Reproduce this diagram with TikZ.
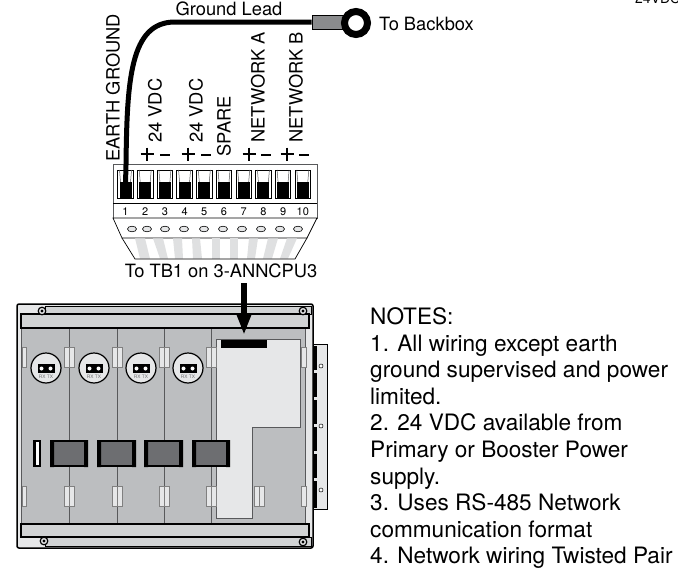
\documentclass[tikz,border=0pt]{standalone}
\usepackage{fontspec}
\setmainfont{TeX Gyre Heros}
\usetikzlibrary{arrows.meta}
\definecolor{panelgray}{HTML}{BCBEC0}
\definecolor{stripgray}{HTML}{D1D3D4}
\definecolor{lightgray}{HTML}{E6E7E8}
\definecolor{darkgray}{HTML}{6D6E71}
\definecolor{lineedge}{HTML}{58595B}
\tikzset{
  label18/.style={font=\fontsize{18.3}{18.3}\selectfont, inner sep=0pt},
  vlabel/.style={label18, rotate=90, anchor=west},
  slotbox/.style={draw=black, line width=.8pt, fill=white, minimum width=15.5pt, minimum height=28pt, inner sep=0pt},
  clipbox/.style={draw=gray, line width=.6pt, fill=lightgray},
  modulebox/.style={draw=black, line width=2pt, fill=darkgray},
}
\begin{document}
\begin{tikzpicture}[x=1pt,y=-1pt]
 \useasboundingbox (0,0) rectangle (678,570);

 % cut off text at the top
 \begin{scope}
 \clip (0,0) rectangle (678,570);
 \node[label18, font=\fontsize{14}{14}\selectfont, anchor=base west] (cutlabel) at (635,3.5) {24VDC};
 \end{scope}

 % terminal block
 \draw[line width=.7pt, lineedge, fill=white] (113,164) rectangle (317,218);
 \draw[line width=.7pt] (113,203) -- (317,203);
 \foreach \x/\h in {0/132,1/147,2/165,3/184,4/204,5/223,6/242,7/261,8/280,9/298} {
   \pgfmathtruncatemacro{\n}{\x+1}
   \node[slotbox] (slot\n) at (125.5+19.7*\x,184) {};
   \draw[line width=.5pt, lineedge] (119.5+19.7*\x,170) -- (120.5+19.7*\x,182) (131.5+19.7*\x,170) -- (130.5+19.7*\x,182);
   \fill[black] (119.5+19.7*\x,182) rectangle (131.5+19.7*\x,198);
   \node[font=\fontsize{11}{11}\selectfont, inner sep=0pt] (num\n) at (125.5+19.7*\x,211.5) {\n};
 }
 % lower part of the block
 \draw[line width=.7pt, fill=white] (113,218) -- (317,218) -- (307,238) -- (122,238) -- cycle;
 \foreach \h in {132,147,165,184,204,223,242,261,280,298} {
   \fill[lightgray, draw=black, line width=.6pt] (\h,229) ellipse [x radius=4.5, y radius=2.8];
 }
 % stripes below the holes
 \foreach \a/\b/\c/\d in {135/145/140/150,153/163/160/168,173/182/175/183,192/200/193/202,212/220/212/220,230/238/230/238,249/258/247/255,268/278/263/272,287/297/280/288} {
   \fill[stripgray!70] (\a,238.4) -- (\b,238.4) -- (\d,258.6) -- (\c,258.6) -- cycle;
 }
 \draw[line width=.7pt] (122,238) -- (135,259) -- (295,259) -- (307,238);

 % ground lead and lug
 \node[draw=black, line width=.7pt, fill=darkgray!80, minimum width=31pt, minimum height=14pt, inner sep=0pt] (lug) at (327.5,22) {};
 \node[draw=black, line width=7pt, fill=white, circle, minimum size=23pt, inner sep=0pt] (ring) at (356,23) {};
 \draw[line width=5pt] (slot1.center) -- (126,165) .. controls (127,80) and (130,22) .. (175,22) -- (lug.west);

 \node[label18] (groundlead) at (229,9) {Ground Lead};
 \node[label18, anchor=west] (backbox) at (379,24) {To Backbox};

 % labels above the terminals
 \node[vlabel] (earth) at (113,162) {EARTH GROUND};
 \node[vlabel] (vdcone) at (155,143) {24 VDC};
 \node[vlabel] (vdctwo) at (196,143) {24 VDC};
 \node[vlabel] (spare) at (224,157) {SPARE};
 \node[vlabel] (neta) at (258,143) {NETWORK A};
 \node[vlabel] (netb) at (296,143) {NETWORK B};
 \foreach \x in {147,188,249,287} { \draw[line width=1.5pt] (\x-6.5,154) -- (\x+6.5,154) (\x,147.5) -- (\x,160.5); }
 \foreach \x in {165,206,266,304} { \draw[line width=1.5pt] (\x-5,155) -- (\x+5,155); }

 \node[label18] (tbone) at (221,271) {To TB1 on 3-ANNCPU3};

 % hinge on the right
 \draw[line width=1pt, fill=lightgray] (313,344) rectangle (327,509);
 \foreach \y in {345,372,399,426,453} { \fill[black] (313,\y+1) rectangle (317,\y+25); }
 \fill[black] (313,481) rectangle (317,508);
 \foreach \y in {366,426,490} { \draw[line width=.5pt, fill=white] (321,\y) circle [radius=2]; }

 % annunciator chassis
 \draw[line width=1.5pt, fill=lightgray, rounded corners=2pt] (17,304) rectangle (313,548);
 \draw[line width=.8pt, fill=stripgray] (45,306) -- (311,306) -- (311,314) -- (45,314) -- cycle;
 \draw[line width=.8pt, fill=stripgray] (45,537) -- (311,537) -- (311,546) -- (45,546) -- cycle;
 \fill[panelgray] (21,328) rectangle (305,524);
 \draw[line width=1pt, lineedge] (21,328) -- (21,524) (305,328) -- (305,524);
 \foreach \x in {69,117,164,211} { \draw[line width=.8pt, lineedge] (\x,328) -- (\x,524); }
 \draw[line width=1.4pt, fill=stripgray] (21,314) rectangle (309,328);
 \draw[line width=1.4pt, fill=stripgray] (21,524) rectangle (309,537);

 % screws
 \foreach \x/\y in {42/311,303/311,44/541,303/542} {
   \draw[line width=1.2pt, fill=lightgray] (\x,\y) circle [radius=3.8];
   \fill[black] (\x,\y) circle [radius=1.6];
 }

 % light module with the slot
 \draw[line width=.6pt, lineedge, fill=lightgray] (216,339) -- (300,339) -- (300,427) -- (252,427) -- (252,518) -- (216,518) -- cycle;
 \node[fill=black, minimum width=46pt, minimum height=8pt, inner sep=0pt] (tbslot) at (244,344) {};

 % clips
 \foreach \y in {347,486} {
   \draw[clipbox] (22,\y) rectangle (26.5,\y+20);
   \draw[clipbox] (301.5,\y) rectangle (306,\y+20);
   \foreach \x in {69,117,164,211} {
     \draw[clipbox] (\x-5,\y) rectangle (\x,\y+20);
     \draw[clipbox] (\x,\y) rectangle (\x+5,\y+20);
   }
 }
 \draw[clipbox] (254,486) rectangle (259,506);
 \draw[clipbox] (259,486) rectangle (264,506);

 % RX TX ports
 \foreach \x in {46,94,141,188} {
   \draw[line width=1.2pt, fill=lightgray] (\x,368) circle [radius=15];
   \fill[black] (\x-8.5,364) rectangle (\x+8.5,373);
   \fill[white] (\x-4.5,368.5) circle [radius=2] (\x+4.5,368.5) circle [radius=2];
   \node[font=\fontsize{4.8}{4.8}\selectfont, text=darkgray, inner sep=0pt] at (\x,376.5) {RX TX};
 }

 % modules
 \foreach \a/\b in {50/88,97/136,144/183,192/230} {
   \draw[modulebox, line width=1.5pt] (\a+1,441) rectangle (\b-1,466);
   \fill[black] (\a,440) rectangle (\a+4,467) (\b-4,440) rectangle (\b,467);
 }
 \fill[black] (33,440) rectangle (41,467);
 \fill[white] (35.5,442) rectangle (38.5,465);

 % arrow
 \coordinate (arrowtop) at (244,283);
 \draw[line width=5.5pt, -{Triangle[length=20pt,width=13pt]}] (arrowtop) -- (tbslot.north |- 0,335);

 % notes
 \node[anchor=north west, align=left, inner sep=0pt, font=\fontsize{22.6}{26.6}\selectfont] (notes) at (370,307.5) {NOTES:\\
 1. All wiring except earth\\
 ground supervised and power\\
 limited.\\
 2. 24 VDC available from\\
 Primary or Booster Power\\
 supply.\\
 3. Uses RS-485 Network\\
 communication format\\
 4. Network wiring Twisted Pair};
\end{tikzpicture}
\end{document}
